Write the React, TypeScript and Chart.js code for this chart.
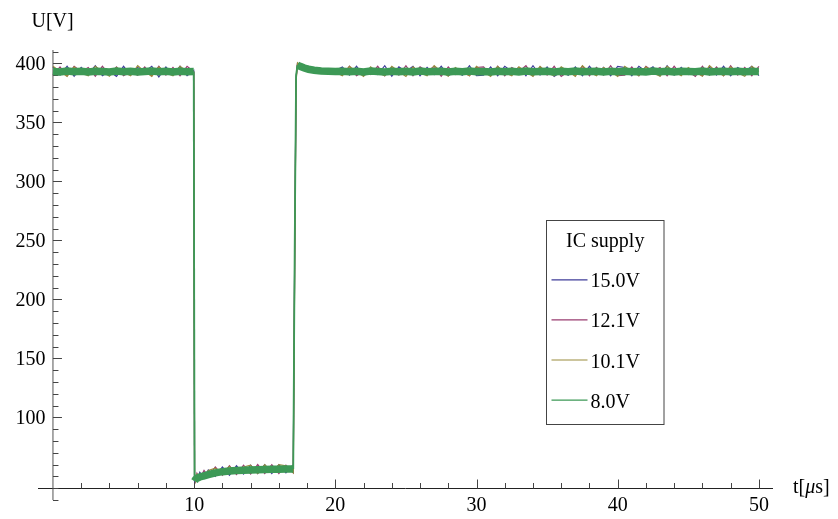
import React, { useEffect, useRef } from "react";
import { Chart, registerables } from "chart.js";

Chart.register(...registerables);

// ---------- data ----------
const timeUs = [
  0, 0.5, 1, 1.5, 2, 2.5, 3, 3.5, 4, 4.5, 5, 5.5, 6, 6.5, 7, 7.5, 8, 8.5, 9, 9.5, 9.97,
  10.03, 10.1, 10.2, 10.4, 10.7, 11, 11.5, 12, 12.5, 13, 13.5, 14, 14.5, 15, 15.5, 16, 16.5, 17.02,
  17.12, 17.22, 17.32, 17.5, 17.8, 18.1, 18.5, 19, 19.5, 20,
  20.5, 21, 21.5, 22, 22.5, 23, 23.5, 24, 24.5, 25, 25.5, 26, 26.5, 27, 27.5, 28, 28.5, 29, 29.5, 30,
  30.5, 31, 31.5, 32, 32.5, 33, 33.5, 34, 34.5, 35, 35.5, 36, 36.5, 37, 37.5, 38, 38.5, 39, 39.5, 40,
  40.5, 41, 41.5, 42, 42.5, 43, 43.5, 44, 44.5, 45, 45.5, 46, 46.5, 47, 47.5, 48, 48.5, 49, 49.5, 50,
];

const u15V = [
  397, 390, 397.5, 389, 396.5, 391, 398, 389.5, 393, 389, 397.5, 390, 396.5, 393, 397.5, 388.5, 397, 390, 397.5, 389.5, 394,
  45, 50, 46.5, 53.5, 48.5, 55.5, 50, 58, 51, 59, 52, 59.5, 52.5, 60, 52.5, 60, 53, 60,
  235, 388, 400, 399, 397, 396.5, 394.5, 395, 393.5, 394,
  397, 390, 397.5, 389.5, 393, 390.5, 398, 389, 397, 393, 397.5, 389.5, 396.5, 390.5, 397.5, 389.5, 393, 390, 398, 389.5,
  390, 397, 389.5, 397.5, 393, 396.5, 389.5, 398, 390, 397, 389, 393, 390, 397, 389.5, 397.5, 390.5, 396.5, 389.5, 397.5,
  396.5, 389.5, 397.5, 393, 397, 389.5, 398, 390, 396.5, 390.5, 393, 389.5, 397, 390, 397.5, 389.5, 396.5, 393, 397.5, 389.5,
];

const u12V = [
  390, 397, 389.5, 397.5, 393, 396.5, 389, 397.5, 390.5, 397, 389.5, 393, 390, 397, 389.5, 397.5, 390, 396.5, 389.5, 397.5, 393,
  48, 45.5, 52.5, 48, 55, 50, 58, 51, 59, 51.5, 59.5, 52, 60, 52.5, 60, 52.5, 59.5, 53,
  230, 386, 399.5, 399, 397.5, 395.5, 395, 393.5, 394, 392.5,
  390, 397.5, 389.5, 393, 390.5, 397.5, 389.5, 396.5, 390, 398, 389.5, 397, 393, 397.5, 389, 397, 390.5, 393, 389.5, 396.5,
  397, 390, 397.5, 389.5, 396.5, 393, 398, 389.5, 397, 390, 397.5, 389, 393, 390, 397.5, 389.5, 396.5, 390, 398, 389.5,
  390, 397, 389.5, 397.5, 393, 396.5, 389.5, 397.5, 390.5, 393, 389, 397.5, 390, 397, 389.5, 398, 390, 396.5, 389.5, 397.5,
];

const u10V = [
  397.5, 393, 389, 397, 392, 389.5, 397.5, 393, 389, 396.5, 392.5, 389.5, 398, 393, 389, 397, 392, 389.5, 397.5, 393, 392,
  49, 46, 52, 50, 49, 55, 57, 51.5, 58.5, 52.5, 58, 59.5, 52.5, 60, 53.5, 60, 59, 53,
  225, 384, 400.5, 398.5, 398, 395.5, 395.5, 393, 394.5, 392.5,
  389.5, 397.5, 393, 389, 397, 392, 389.5, 397.5, 393, 389, 397, 392, 389.5, 398, 393, 389, 396.5, 392.5, 389.5, 397.5,
  393, 389, 397.5, 392, 389.5, 397, 393, 389, 397.5, 392, 389.5, 397, 393, 389, 398, 392.5, 389.5, 396.5, 393, 389,
  397.5, 393, 389.5, 397, 392, 389, 397.5, 393, 389.5, 396.5, 392.5, 389, 398, 393, 389.5, 397, 392, 389, 397.5, 393,
];

const u8V = [
  393, 392.6, 393.4, 392.8, 393.2, 392.7, 393.3, 393, 392.6, 393.4, 392.9, 393.3, 392.7, 393.1, 393.4, 392.8, 393.2, 392.6, 393.3, 392.9, 393,
  46, 47.5, 48.5, 49.5, 50.5, 51.5, 53, 54, 54.5, 55, 55.3, 55.5, 55.7, 55.9, 56, 56.1, 56.2, 56.3,
  240, 390, 398.5, 397.5, 396, 395, 394.2, 393.6, 393.3, 393.1,
  393.3, 392.8, 393.2, 392.7, 393.4, 393, 392.6, 393.3, 392.9, 393.2, 392.7, 393.4, 392.8, 393.1, 393.3, 392.7, 393.2, 392.9, 393.4, 392.8,
  393.1, 392.7, 393.3, 392.9, 393.2, 392.6, 393.4, 392.8, 393.1, 393.3, 392.7, 393.2, 392.9, 393.4, 392.8, 393, 393.3, 392.7, 393.2, 392.9,
  393.3, 392.8, 393.1, 392.7, 393.4, 392.9, 393.2, 392.6, 393.3, 393, 392.8, 393.4, 392.7, 393.1, 393.3, 392.8, 393.2, 392.9, 393.1, 393,
];

const seriesLabels = ["15.0V", "12.1V", "10.1V", "8.0V"];
const seriesValues = [u15V, u12V, u10V, u8V];
const seriesColors = ["#3F3D99", "#993D71", "#998B3D", "#3D9956"];
const legendTitle = "IC supply";

const xTickLabels = [10, 20, 30, 40, 50];
const yTickLabels = [100, 150, 200, 250, 300, 350, 400];
const xMinorTicks = [2, 4, 6, 8, 12, 14, 16, 18, 22, 24, 26, 28, 32, 34, 36, 38, 42, 44, 46, 48];
const yMinorTicks = [
  30, 40, 50, 60, 70, 80, 90, 110, 120, 130, 140, 160, 170, 180, 190, 210, 220, 230, 240,
  260, 270, 280, 290, 310, 320, 330, 340, 360, 370, 380, 390, 410,
];

const X_MIN = -1.06;
const X_MAX = 51;
const Y_MIN = 30;
const Y_MAX = 411.3;
const AXIS_Y = 40; // where the horizontal axis crosses
const AXIS_X = 0;

const FONT_FAMILY = '"Liberation Serif", "DejaVu Serif", serif';
const FONT = `20px ${FONT_FAMILY}`;

const axesPlugin = {
  id: "mmaAxes",
  beforeDatasetsDraw(chart: any) {
    const { ctx, chartArea, scales } = chart;
    const xs = scales.x;
    const ys = scales.y;
    const x0 = xs.getPixelForValue(AXIS_X);
    const y0 = Math.round(ys.getPixelForValue(AXIS_Y)) + 0.5;
    ctx.save();
    ctx.lineWidth = 1;
    ctx.strokeStyle = "#222";
    ctx.beginPath();
    ctx.moveTo(chartArea.left, y0);
    ctx.lineTo(chartArea.right, y0);
    ctx.stroke();
    ctx.strokeStyle = "#555";
    ctx.beginPath();
    ctx.moveTo(x0, chartArea.top);
    ctx.lineTo(x0, chartArea.bottom);
    ctx.stroke();

    // x ticks (pointing up)
    ctx.strokeStyle = "#444";
    ctx.beginPath();
    for (const v of xTickLabels) {
      const px = Math.round(xs.getPixelForValue(v)) + 0.5;
      ctx.moveTo(px, y0);
      ctx.lineTo(px, y0 - 9);
    }
    for (const v of xMinorTicks) {
      const px = Math.round(xs.getPixelForValue(v)) + 0.5;
      ctx.moveTo(px, y0);
      ctx.lineTo(px, y0 - 5.5);
    }
    // y ticks (pointing right)
    for (const v of yTickLabels) {
      const py = Math.round(ys.getPixelForValue(v)) + 0.5;
      ctx.moveTo(x0, py);
      ctx.lineTo(x0 + 9, py);
    }
    for (const v of yMinorTicks) {
      const py = Math.round(ys.getPixelForValue(v)) + 0.5;
      ctx.moveTo(x0, py);
      ctx.lineTo(x0 + 5.5, py);
    }
    ctx.stroke();

    // labels
    ctx.fillStyle = "#000";
    ctx.font = FONT;
    ctx.textBaseline = "alphabetic";
    ctx.textAlign = "center";
    for (const v of xTickLabels) {
      ctx.fillText(String(v), xs.getPixelForValue(v), y0 + 22.5);
    }
    ctx.textAlign = "right";
    for (const v of yTickLabels) {
      ctx.fillText(String(v), x0 - 7.5, ys.getPixelForValue(v) + 6.3);
    }
    // axis titles
    ctx.textAlign = "left";
    ctx.fillText("U[V]", 31.5, 27);
    let tx = chartArea.right + 20;
    const ty = y0 + 4.8;
    ctx.fillText("t[", tx, ty);
    tx += ctx.measureText("t[").width;
    ctx.font = `italic 20px ${FONT_FAMILY}`;
    ctx.fillText("\u03bc", tx, ty);
    tx += ctx.measureText("\u03bc").width;
    ctx.font = FONT;
    ctx.fillText("s]", tx, ty);
    ctx.restore();
  },
  afterDatasetsDraw(chart: any) {
    const { ctx } = chart;
    const left = 546.5;
    const top = 220.5;
    const w = 117.5;
    const h = 204;
    ctx.save();
    ctx.fillStyle = "#fff";
    ctx.fillRect(left, top, w, h);
    ctx.strokeStyle = "#444";
    ctx.lineWidth = 1;
    ctx.strokeRect(left, top, w, h);
    ctx.fillStyle = "#000";
    ctx.font = FONT;
    ctx.textAlign = "center";
    ctx.textBaseline = "alphabetic";
    ctx.fillText(legendTitle, left + w / 2, 246.8);
    ctx.textAlign = "left";
    seriesLabels.forEach((lab, i) => {
      const base = 287.3 + i * 40.1;
      ctx.strokeStyle = seriesColors[i];
      ctx.lineWidth = 1.2;
      ctx.beginPath();
      ctx.moveTo(551.5, base - 7.5);
      ctx.lineTo(587.5, base - 7.5);
      ctx.stroke();
      ctx.fillText(lab, 590.5, base);
    });
    ctx.restore();
  },
};

export default function App() {
  const canvasRef = useRef<HTMLCanvasElement | null>(null);

  useEffect(() => {
    const canvas = canvasRef.current;
    if (!canvas) return;
    const datasets = seriesValues.map((vals, i) => {
      const isTop = i === seriesValues.length - 1;
      return {
        label: seriesLabels[i],
        data: timeUs.map((t, k) => ({ x: t, y: vals[k] })),
        borderColor: seriesColors[i],
        backgroundColor: seriesColors[i],
        borderWidth: isTop ? 7.5 : 1.2,
        pointRadius: 0,
        tension: 0,
        fill: false,
        order: isTop ? 0 : 4 - i,
        segment: isTop
          ? {
              borderWidth: (c: any) =>
                Math.abs(c.p1.parsed.y - c.p0.parsed.y) > 5 ? 1.8 : 7.5,
            }
          : undefined,
      };
    });
    const chart = new Chart(canvas, {
      type: "line",
      data: { datasets },
      options: {
        animation: false,
        responsive: false,
        devicePixelRatio: 1,
        parsing: true,
        layout: { padding: { left: 38, right: 65, top: 50, bottom: 19 } },
        scales: {
          x: { type: "linear", min: X_MIN, max: X_MAX, display: false },
          y: { type: "linear", min: Y_MIN, max: Y_MAX, display: false },
        },
        plugins: { legend: { display: false }, tooltip: { enabled: false } },
        elements: { line: { borderCapStyle: "butt", borderJoinStyle: "miter" } },
      },
      plugins: [axesPlugin],
    } as any);
    return () => chart.destroy();
  }, []);

  return (
    <div style={{ position: "fixed", left: 0, top: 0, width: 838, height: 519, background: "#fff" }}>
      <canvas ref={canvasRef} width={838} height={519} style={{ display: "block" }} />
    </div>
  );
}
